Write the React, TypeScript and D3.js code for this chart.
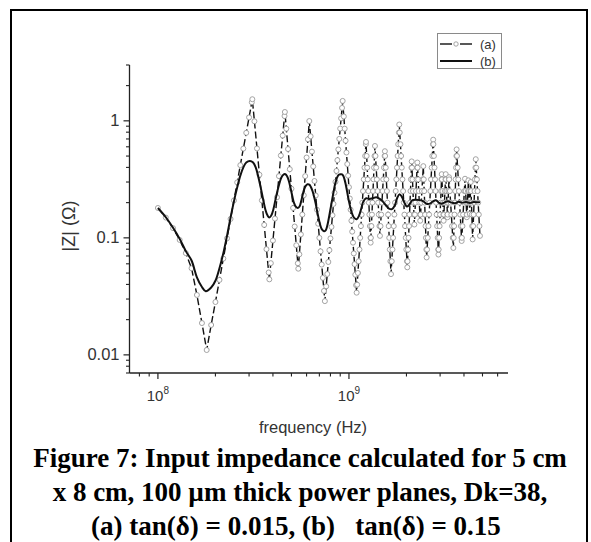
import React from "react";
import * as d3 from "d3";

// ---------- data (frequency in MHz, |Z| in ohms) ----------
const seriesALow: [number, number][] = [
  [100,0.18],[110,0.149],[120,0.121],[130,0.096],[140,0.074],[150,0.055],[160,0.0325],[170,0.0187],[180,0.011],
  [190,0.018],[200,0.0283],[210,0.0437],[220,0.0665],[230,0.099],[240,0.145],[250,0.209],[260,0.298],[270,0.418],
  [280,0.579],[290,0.79],[300,1.07],[310,1.44],[312,1.53],[320,0.991],[330,0.581],[340,0.346],[350,0.209],[360,0.129],
  [370,0.08],[380,0.0506],[383,0.0442],[390,0.0608],[400,0.0948],[410,0.146],[420,0.222],[430,0.337],[440,0.505],
  [450,0.748],[460,1.1],[462,1.19],[470,0.857],[480,0.574],[490,0.386],[500,0.263],[510,0.18],[520,0.125],[530,0.0865],
  [540,0.0606],[543,0.0545],[550,0.0723],[560,0.107],[570,0.158],[580,0.231],[590,0.337],[600,0.486],[610,0.695],
  [620,0.996],[630,0.738],[640,0.546],[650,0.408],[660,0.306],[670,0.23],[680,0.174],[690,0.132],[700,0.1],[710,0.0767],
  [720,0.0591],[730,0.0455],[740,0.0352],[748,0.0288],[760,0.0385],[770,0.0491],[780,0.0622],[790,0.0785],[800,0.099],
  [810,0.124],[820,0.156],[830,0.195],[840,0.243],[850,0.301],[860,0.373],[870,0.461],[880,0.57],[890,0.701],[900,0.859],
  [910,1.05],[920,1.29],[927,1.48],[940,1.09],[950,0.857],[960,0.676],[970,0.536],[980,0.427],[990,0.34],[1000,0.271],
  [1010,0.217],[1020,0.174],[1030,0.14],[1040,0.113],[1050,0.091],[1060,0.0736],[1070,0.0596],[1080,0.0484],[1090,0.0394],
  [1097,0.034]
];

const seriesAHigh: [number, number][] = [
  [1104,0.0398],[1114,0.0501],[1124,0.0631],[1135,0.0794],[1145,0.1],[1155,0.126],[1165,0.158],[1175,0.2],[1185,0.251],
  [1196,0.316],[1206,0.398],[1216,0.501],[1226,0.631],[1228,0.66],
  [1238,0.501],[1246,0.398],[1254,0.316],[1263,0.251],[1271,0.2],[1279,0.158],[1287,0.126],[1296,0.1],[1299,0.091],
  [1302,0.1],[1311,0.126],[1319,0.158],[1327,0.2],[1336,0.251],[1344,0.316],[1353,0.398],[1361,0.501],[1368,0.61],
  [1377,0.501],[1388,0.398],[1400,0.316],[1411,0.251],[1422,0.2],[1433,0.158],[1444,0.126],[1453,0.104],
  [1463,0.126],[1475,0.158],[1488,0.2],[1500,0.251],[1512,0.316],[1525,0.398],[1537,0.501],[1542,0.55],
  [1546,0.501],[1558,0.398],[1569,0.316],[1580,0.251],[1591,0.2],[1603,0.158],[1614,0.126],[1625,0.1],[1636,0.0794],
  [1648,0.0631],[1660,0.049],
  [1675,0.0631],[1689,0.0794],[1702,0.1],[1716,0.126],[1729,0.158],[1743,0.2],[1757,0.251],[1770,0.316],[1784,0.398],
  [1798,0.501],[1811,0.631],[1825,0.794],[1834,0.93],
  [1844,0.794],[1860,0.631],[1875,0.501],[1890,0.398],[1905,0.316],[1921,0.251],[1936,0.2],[1951,0.158],[1966,0.126],
  [1982,0.1],[1997,0.0794],[2012,0.0631],[2020,0.056],
  [2026,0.0631],[2038,0.0794],[2051,0.1],[2063,0.126],[2075,0.158],[2087,0.2],[2099,0.251],[2111,0.316],[2124,0.398],[2130,0.45],
  [2137,0.398],[2150,0.316],[2163,0.251],[2176,0.2],[2189,0.158],[2200,0.13],
  [2213,0.158],[2228,0.2],[2243,0.251],[2258,0.316],[2273,0.398],[2280,0.44],
  [2287,0.398],[2303,0.316],[2319,0.251],[2335,0.2],[2351,0.158],[2360,0.14],
  [2370,0.158],[2390,0.2],[2409,0.251],[2428,0.316],[2450,0.41],
  [2464,0.316],[2477,0.251],[2490,0.2],[2503,0.158],[2516,0.126],[2528,0.1],[2541,0.0794],[2550,0.068],
  [2564,0.0794],[2585,0.1],[2606,0.126],[2627,0.158],[2648,0.2],[2668,0.251],[2689,0.316],[2710,0.398],[2731,0.501],
  [2752,0.631],[2760,0.69],
  [2767,0.631],[2785,0.501],[2804,0.398],[2822,0.316],[2840,0.251],[2859,0.2],[2877,0.158],[2895,0.126],[2914,0.1],
  [2932,0.0794],[2940,0.072],
  [2948,0.0794],[2965,0.1],[2982,0.126],[3000,0.158],[3017,0.2],[3035,0.251],[3052,0.316],[3060,0.35],
  [3068,0.316],[3085,0.251],[3103,0.2],[3120,0.158],[3130,0.14],
  [3141,0.158],[3161,0.2],[3181,0.251],[3201,0.316],[3210,0.35],
  [3218,0.316],[3237,0.251],[3256,0.2],[3275,0.158],[3280,0.15],
  [3284,0.158],[3302,0.2],[3319,0.251],[3337,0.316],[3340,0.33],
  [3346,0.316],[3375,0.251],[3405,0.2],[3435,0.158],[3465,0.126],[3494,0.1],[3520,0.082],
  [3534,0.1],[3551,0.126],[3568,0.158],[3584,0.2],[3601,0.251],[3617,0.316],[3634,0.398],[3651,0.501],[3660,0.57],
  [3676,0.501],[3706,0.398],[3735,0.316],[3765,0.251],[3794,0.2],[3823,0.158],[3853,0.126],[3882,0.1],[3890,0.094],
  [3898,0.1],[3928,0.126],[3958,0.158],[3988,0.2],[4018,0.251],[4050,0.32],
  [4079,0.251],[4106,0.2],[4133,0.158],[4140,0.15],
  [4146,0.158],[4171,0.2],[4197,0.251],[4220,0.31],
  [4242,0.251],[4267,0.2],[4290,0.16],
  [4308,0.2],[4326,0.251],[4340,0.3],
  [4356,0.251],[4376,0.2],[4397,0.158],[4417,0.126],[4440,0.097],
  [4468,0.126],[4493,0.158],[4518,0.2],[4542,0.251],[4567,0.316],[4592,0.398],[4610,0.47],
  [4636,0.398],[4673,0.316],[4710,0.251],[4746,0.2],[4783,0.158],[4820,0.126],[4850,0.104]
];

const seriesB: [number, number][] = [
  [100,0.18],[110,0.15],[120,0.122],[130,0.098],[140,0.077],[150,0.064],[160,0.046],[170,0.038],[178,0.035],[190,0.0376],
  [200,0.043],[210,0.055],[220,0.074],[230,0.104],[240,0.149],[250,0.205],[260,0.27],[270,0.34],[280,0.4],[290,0.44],
  [303,0.454],[315,0.44],[325,0.4],[335,0.335],[345,0.27],[355,0.215],[365,0.175],[375,0.155],[383,0.149],[392,0.155],
  [402,0.175],[412,0.21],[422,0.25],[432,0.29],[442,0.325],[452,0.345],[465,0.35],[475,0.335],[485,0.305],[495,0.265],
  [505,0.228],[515,0.2],[527,0.185],[540,0.18],[552,0.186],[562,0.205],[572,0.232],[582,0.258],[594,0.278],[607,0.287],
  [620,0.285],[632,0.272],[645,0.25],[658,0.222],[670,0.195],[682,0.168],[695,0.145],[708,0.128],[722,0.118],[740,0.114],
  [755,0.116],[768,0.125],[780,0.14],[792,0.16],[805,0.186],[818,0.215],[830,0.245],[843,0.28],[857,0.31],[870,0.332],
  [885,0.346],[905,0.35],[920,0.349],[935,0.338],[948,0.316],[960,0.29],[972,0.262],[985,0.233],[1000,0.205],[1020,0.178],
  [1040,0.16],[1065,0.148],[1097,0.144],[1130,0.155],[1160,0.178],[1190,0.205],[1230,0.218],[1280,0.215],[1330,0.218],
  [1390,0.222],[1450,0.215],[1500,0.205],[1560,0.19],[1620,0.178],[1680,0.176],[1740,0.19],[1790,0.22],[1840,0.236],
  [1890,0.225],[1950,0.2],[2010,0.185],[2060,0.19],[2150,0.21],[2250,0.212],[2350,0.21],[2450,0.205],[2550,0.195],
  [2650,0.196],[2750,0.205],[2850,0.21],[2950,0.2],[3050,0.196],[3150,0.2],[3300,0.205],[3450,0.2],[3600,0.198],
  [3750,0.203],[3900,0.2],[4100,0.202],[4300,0.199],[4500,0.202],[4700,0.201],[4850,0.202]
];

const xMajorTicks = [1e8, 1e9];
const xMajorExponents = ["8", "9"];
const yMajorTicks = [0.01, 0.1, 1];
const yMajorLabels = ["0.01", "0.1", "1"];
const legendLabels = ["(a)", "(b)"];
const xTitle = "frequency (Hz)";
const yTitle = "|Z| (\u03A9)";
const captionLines = [
  "Figure 7: Input impedance calculated for 5 cm",
  "x 8 cm, 100 \u00B5m thick power planes, Dk=38,",
  "(a) tan(\u03B4) = 0.015, (b)   tan(\u03B4) = 0.15",
];

const W = 591;
const H = 542;
const SANS = "'Liberation Sans', Arial, Helvetica, sans-serif";
const SERIF = "'Liberation Serif', 'Times New Roman', serif";

export default function App() {
  const x = d3.scaleLog().domain([7.1e7, 6.8e9]).range([129.5, 508]);
  const y = d3.scaleLog().domain([0.007, 3]).range([373, 65]);
  const x0 = 129.5;
  const y0 = 373;

  const line = d3
    .line<[number, number]>()
    .x((d) => x(d[0] * 1e6))
    .y((d) => y(d[1]));
  const lineB = d3
    .line<[number, number]>()
    .x((d) => x(d[0] * 1e6))
    .y((d) => y(d[1]))
    .curve(d3.curveCatmullRom.alpha(0.5));

  const seriesA = [...seriesALow, ...seriesAHigh];
  const xMinor = x.ticks().filter((t) => !xMajorTicks.some((m) => Math.abs(m - t) / m < 1e-6));
  const yMinor = y.ticks().filter((t) => !yMajorTicks.some((m) => Math.abs(m - t) / m < 1e-6));

  const capBase = [467, 501, 535];

  return (
    <svg
      width={W}
      height={H}
      viewBox={`0 0 ${W} ${H}`}
      style={{ position: "absolute", left: 0, top: 0, background: "#fff" }}
    >
      <rect x={0} y={0} width={W} height={H} fill="#fff" />
      {/* figure frame */}
      <rect x={11} y={10} width={576} height={545} fill="none" stroke="#000" strokeWidth={2} />

      {/* series a: dashed line + open circles */}
      <path d={line(seriesA) || ""} fill="none" stroke="#111" strokeWidth={1.4} strokeDasharray="7 3" />
      {seriesA.map((d, i) => (
        <circle key={i} cx={x(d[0] * 1e6)} cy={y(d[1])} r={2.5} fill="#fff" stroke="#9a9a9a" strokeWidth={0.9} />
      ))}
      {/* series b: solid line */}
      <path d={lineB(seriesB) || ""} fill="none" stroke="#111" strokeWidth={2} />

      {/* axes */}
      <line x1={x0} x2={x0} y1={65} y2={y0} stroke="#222" strokeWidth={1.3} />
      <line x1={x0} x2={508} y1={y0} y2={y0} stroke="#222" strokeWidth={1.3} />
      {yMajorTicks.map((t, i) => (
        <g key={"ym" + i}>
          <line x1={x0 - 6} x2={x0} y1={y(t)} y2={y(t)} stroke="#222" strokeWidth={1.2} />
          <text x={x0 - 10} y={y(t) + 5.5} textAnchor="end" fontFamily={SANS} fontSize={16.5} fill="#333">
            {yMajorLabels[i]}
          </text>
        </g>
      ))}
      {yMinor.map((t, i) => (
        <line key={"yn" + i} x1={x0 - 3.5} x2={x0} y1={y(t)} y2={y(t)} stroke="#222" strokeWidth={1.1} />
      ))}
      {xMajorTicks.map((t, i) => (
        <g key={"xm" + i}>
          <line x1={x(t)} x2={x(t)} y1={y0} y2={y0 + 6} stroke="#222" strokeWidth={1.2} />
          <text x={x(t)} y={401} textAnchor="middle" fontFamily={SANS} fontSize={15} fill="#333">
            <tspan>10</tspan>
            <tspan dy={-7} fontSize={10}>{xMajorExponents[i]}</tspan>
          </text>
        </g>
      ))}
      {xMinor.map((t, i) => (
        <line key={"xn" + i} x1={x(t)} x2={x(t)} y1={y0} y2={y0 + 3.5} stroke="#222" strokeWidth={1.1} />
      ))}

      {/* axis titles */}
      <text x={313} y={433} textAnchor="middle" fontFamily={SANS} fontSize={16.5} fill="#333">
        {xTitle}
      </text>
      <text
        transform={`translate(75,226) rotate(-90)`}
        textAnchor="middle"
        fontFamily={SANS}
        fontSize={18}
        fill="#333"
      >
        {yTitle}
      </text>

      {/* legend */}
      <rect x={437.5} y={33.5} width={64} height={35} fill="#fff" stroke="#8a8a8a" strokeWidth={1} />
      <line x1={440} x2={452} y1={44} y2={44} stroke="#111" strokeWidth={1.4} />
      <line x1={460} x2={472} y1={44} y2={44} stroke="#111" strokeWidth={1.4} />
      <circle cx={456} cy={44} r={2.2} fill="#fff" stroke="#9a9a9a" strokeWidth={0.9} />
      <text x={480} y={48.5} fontFamily={SANS} fontSize={13} fill="#333">{legendLabels[0]}</text>
      <line x1={440} x2={472} y1={61} y2={61} stroke="#111" strokeWidth={2} />
      <text x={480} y={65.5} fontFamily={SANS} fontSize={13} fill="#333">{legendLabels[1]}</text>

      {/* caption */}
      {captionLines.map((c, i) => (
        <text
          key={"c" + i}
          x={i === 2 ? 296 : 300}
          y={capBase[i]}
          textAnchor="middle"
          fontFamily={SERIF}
          fontWeight="bold"
          fontSize={27}
          fill="#000"
          style={{ whiteSpace: "pre" }}
        >
          {c}
        </text>
      ))}
    </svg>
  );
}
